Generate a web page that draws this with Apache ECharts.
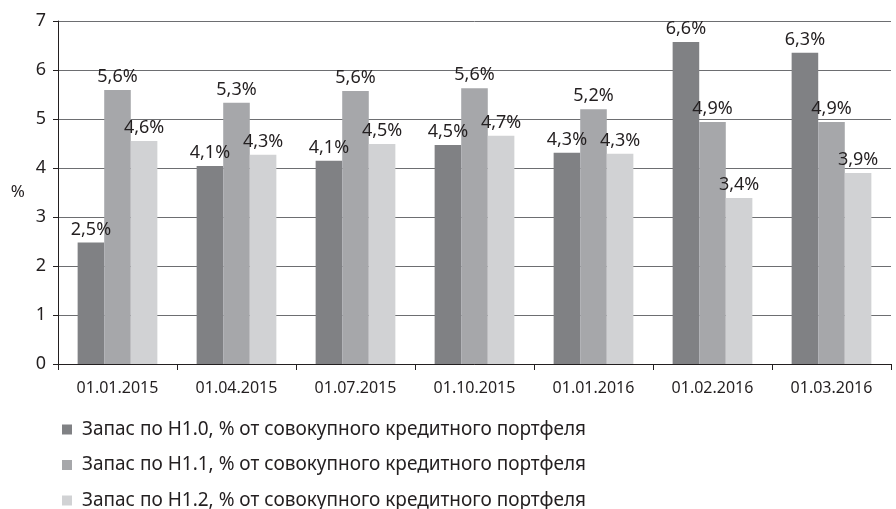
<!DOCTYPE html>
<html>
<head>
<meta charset="utf-8">
<script src="https://cdn.jsdelivr.net/npm/echarts@6/dist/echarts.min.js"></script>
<style>
  html, body { margin: 0; padding: 0; background: #fff; }
  #chart { width: 896px; height: 509px; }
</style>
</head>
<body>
<div id="chart"></div>
<script>
const categories = ['01.01.2015', '01.04.2015', '01.07.2015', '01.10.2015', '01.01.2016', '01.02.2016', '01.03.2016'];
const seriesNames = [
    'Запас по Н1.0, % от совокупного кредитного портфеля',
    'Запас по Н1.1, % от совокупного кредитного портфеля',
    'Запас по Н1.2, % от совокупного кредитного портфеля'
];
const h10 = [2.48, 4.04, 4.15, 4.47, 4.31, 6.57, 6.35];
const h11 = [5.59, 5.33, 5.57, 5.63, 5.2, 4.94, 4.94];
const h12 = [4.55, 4.27, 4.49, 4.66, 4.29, 3.39, 3.9];
const h10Labels = ['2,5%', '4,1%', '4,1%', '4,5%', '4,3%', '6,6%', '6,3%'];
const h11Labels = ['5,6%', '5,3%', '5,6%', '5,6%', '5,2%', '4,9%', '4,9%'];
const h12Labels = ['4,6%', '4,3%', '4,5%', '4,7%', '4,3%', '3,4%', '3,9%'];
const colors = ['#808184', '#a6a7aa', '#d1d2d4'];

const font = 'Noto Sans';
const textColor = '#231f20';

const makeSeries = (name, data, labels, color) => {
    return {
        name: name,
        type: 'bar',
        data: data,
        barGap: '0%',
        barCategoryGap: '33%',
        itemStyle: { color: color },
        label: {
            show: true,
            position: 'top',
            distance: 4,
            color: textColor,
            fontFamily: font,
            fontSize: 18,
            formatter: (p) => labels[p.dataIndex]
        }
    };
};

// one legend per row so the three items stay stacked
const makeLegend = (name, top) => {
    return {
        data: [name],
        orient: 'vertical',
        left: 57,
        top: top,
        itemWidth: 10,
        itemHeight: 10,
        icon: 'rect',
        textStyle: {
            color: textColor,
            fontFamily: font,
            fontSize: 19,
            lineHeight: 14,
            padding: [0, 0, 0, 5]
        }
    };
};

const myChart = echarts.init(document.getElementById('chart'));
myChart.setOption({
    animation: false,
    color: colors,
    grid: { left: 58, right: 5, top: 21, bottom: 145 },
    legend: [
        makeLegend(seriesNames[0], 415),
        makeLegend(seriesNames[1], 450.5),
        makeLegend(seriesNames[2], 486)
    ],
    xAxis: {
        type: 'category',
        data: categories,
        axisLine: { lineStyle: { color: '#231f20', width: 1 } },
        axisTick: { show: true, length: 6, lineStyle: { color: '#231f20' } },
        axisLabel: { color: textColor, fontFamily: font, fontSize: 16, margin: 16 }
    },
    yAxis: {
        type: 'value',
        min: 0,
        max: 7,
        interval: 1,
        name: '%',
        nameLocation: 'middle',
        nameRotate: 0,
        nameGap: 33,
        nameTextStyle: { color: textColor, fontFamily: font, fontSize: 17 },
        axisLine: { show: true, lineStyle: { color: '#231f20', width: 1 } },
        axisTick: { show: true, length: 5, lineStyle: { color: '#231f20' } },
        axisLabel: { color: textColor, fontFamily: font, fontSize: 18, margin: 12 },
        splitLine: { lineStyle: { color: '#6d6e71', width: 1 } }
    },
    series: [
        makeSeries(seriesNames[0], h10, h10Labels, colors[0]),
        makeSeries(seriesNames[1], h11, h11Labels, colors[1]),
        makeSeries(seriesNames[2], h12, h12Labels, colors[2])
    ]
});
</script>
</body>
</html>
